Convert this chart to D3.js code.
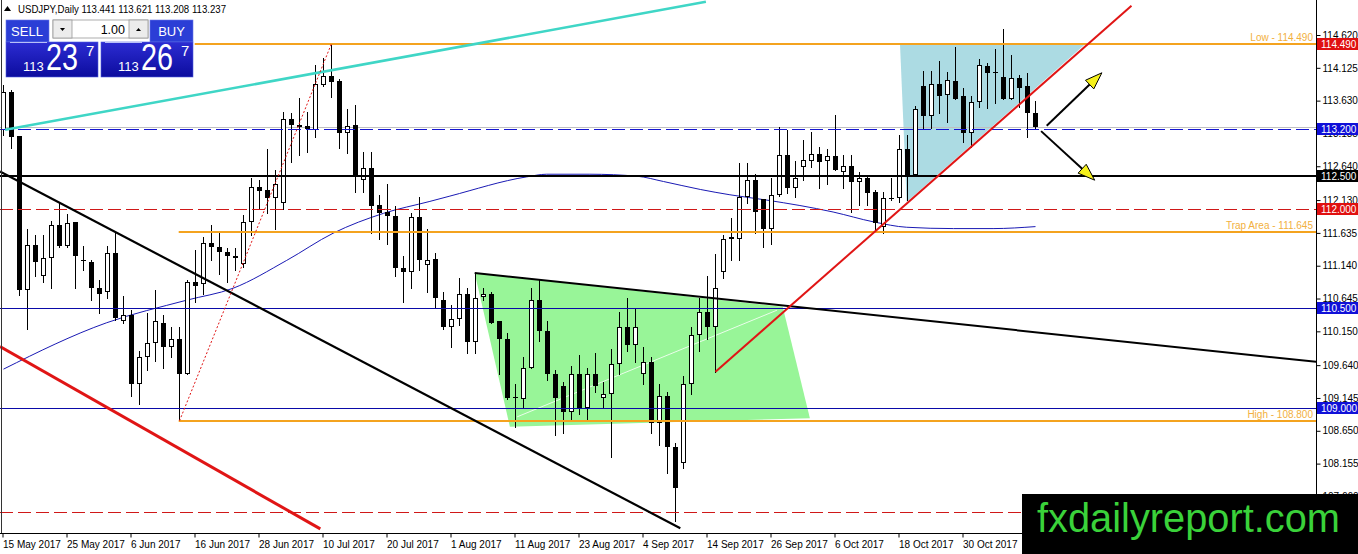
<!DOCTYPE html>
<html><head><meta charset="utf-8">
<script src="https://cdn.jsdelivr.net/npm/d3@7"></script>
<style>html,body{margin:0;padding:0;background:#fff;overflow:hidden}svg{display:block}</style>
</head><body><svg id="c" width="1358" height="554"></svg>
<script>
// ---------- DATA ----------
const opens=[113.18,113.76,113.09,110.78,111.45,110.98,111.25,111.75,111.43,111.80,111.22,111.19,110.80,110.74,111.33,110.31,110.39,109.36,109.77,109.97,110.27,109.91,110.03,109.51,110.89,110.87,111.49,111.42,111.34,111.28,111.16,111.80,112.32,112.28,112.16,112.08,113.35,113.26,113.25,113.19,113.86,114.00,113.93,113.14,113.26,112.44,112.61,112.05,111.95,111.89,111.10,111.05,111.87,111.15,111.24,110.63,110.22,110.33,110.71,109.99,110.67,110.72,110.30,110.03,109.15,109.13,109.59,110.63,110.16,109.51,109.33,108.93,109.51,109.00,109.51,109.15,109.21,109.66,110.21,109.94,109.50,109.68,108.77,109.18,108.41,108.17,109.36,110.10,110.44,110.21,111.04,111.57,111.55,112.17,112.44,112.14,111.69,112.20,112.81,112.31,112.63,112.72,112.82,112.72,112.79,112.55,112.64,112.40,112.46,112.25,111.72,112.15,112.16,112.90,112.51,113.85,113.40,113.88,113.71,113.92,113.70,113.14,113.61,114.15,114.06,113.99,113.65,113.97,113.85,113.441];
const highs=[113.86,113.79,113.10,111.69,111.60,111.61,111.81,112.10,111.92,111.80,111.43,111.22,110.92,111.43,111.63,110.69,110.47,109.86,110.42,110.77,110.39,110.21,110.21,110.93,111.37,111.57,111.75,111.67,111.40,111.40,111.90,112.46,112.43,112.90,112.58,113.46,113.44,113.67,113.46,114.17,114.27,114.49,113.96,113.50,113.56,112.85,112.85,112.20,112.38,112.04,111.29,111.93,112.17,111.69,111.33,110.75,110.54,110.96,110.80,111.02,110.80,110.75,110.30,110.13,109.36,109.76,110.81,110.92,110.31,109.57,109.38,109.62,109.80,109.60,109.82,109.38,109.88,110.44,110.65,110.48,109.91,109.76,109.36,109.23,108.46,109.48,110.22,110.65,110.99,111.31,111.61,111.86,112.69,112.69,112.52,112.14,112.46,113.23,113.18,112.72,113.03,113.15,112.93,112.90,113.41,112.81,112.81,112.55,112.49,112.28,112.25,112.46,113.11,113.11,113.55,114.08,114.08,114.23,114.06,114.44,113.82,113.70,114.26,114.20,114.41,114.71,114.32,114.02,114.05,113.621];
const lows=[113.11,112.91,110.70,110.19,110.99,110.89,110.81,111.42,111.42,110.81,111.07,110.62,110.42,110.66,110.32,110.27,109.18,109.06,109.56,109.71,109.59,109.76,108.80,109.50,110.59,110.72,111.22,111.02,110.89,111.07,111.12,111.60,112.01,111.93,111.70,112.00,112.70,112.81,112.85,113.08,113.85,113.68,112.91,112.84,112.25,112.25,111.64,111.54,111.46,110.98,110.59,110.80,111.07,110.75,110.51,110.19,109.91,110.24,109.82,109.82,110.62,110.28,109.51,109.13,108.70,109.00,109.59,110.01,109.42,108.58,108.61,108.82,108.90,108.82,109.24,109.00,108.25,109.51,109.86,109.68,109.36,108.61,108.43,108.02,107.29,108.09,109.21,109.86,110.04,109.53,110.96,111.22,111.22,112.09,111.64,111.42,111.46,112.19,112.23,112.17,112.44,112.63,112.31,112.38,112.58,112.31,111.95,112.05,112.05,111.66,111.64,112.13,112.10,112.13,112.51,113.22,113.22,113.44,113.31,113.65,113.00,112.93,113.53,113.52,113.60,113.65,113.65,113.53,113.08,113.208];
const closes=[113.76,113.08,110.77,111.45,111.19,111.25,111.75,111.43,111.78,111.28,111.23,110.80,110.72,111.33,110.35,110.39,109.36,109.77,109.97,110.30,109.91,110.03,109.51,110.89,110.84,111.49,111.42,111.34,111.28,111.25,111.80,112.32,112.26,112.16,112.37,113.35,113.26,113.23,113.20,113.88,114.00,113.91,113.14,113.25,112.49,112.61,112.04,111.93,111.89,111.10,111.05,111.87,111.22,111.22,110.66,110.21,110.33,110.71,109.99,110.66,110.72,110.28,110.03,109.15,109.16,109.60,110.63,110.15,109.51,109.15,108.93,109.51,109.00,109.51,109.32,109.21,109.66,110.21,109.95,110.21,109.68,108.77,109.18,108.41,107.79,109.36,110.10,110.44,110.21,110.80,111.54,111.55,112.17,112.44,111.95,111.69,112.20,112.81,112.31,112.46,112.74,112.82,112.70,112.79,112.58,112.65,112.40,112.46,112.23,111.78,112.16,112.16,112.90,112.51,113.50,113.40,113.88,113.70,113.94,113.65,113.14,113.61,114.17,114.05,114.06,113.65,113.97,113.82,113.44,113.237];

const dateLabels=["15 May 2017","25 May 2017","6 Jun 2017","16 Jun 2017","28 Jun 2017","10 Jul 2017","20 Jul 2017","1 Aug 2017","11 Aug 2017","23 Aug 2017","4 Sep 2017","14 Sep 2017","26 Sep 2017","6 Oct 2017","18 Oct 2017","30 Oct 2017"];
const dateBars=[0,8,16,24,32,40,48,56,64,72,80,88,96,104,112,120];
const priceTicks=[114.620,114.125,113.630,113.135,112.640,112.130,111.635,111.140,110.645,110.150,109.640,109.145,108.650,108.155,107.660];

// moving average: bar index / value
const maBars=[0,12.9,22.9,28.7,35.4,41.2,47.5,53.3,55.8,65.4,67.9,73.3,79.2,82.5,87.1,90.8,95.4,103.7,108.8,112.9,118.75,123.7,129];
const maVals=[109.58,110.28,110.62,110.80,111.22,111.63,111.93,112.11,112.19,112.48,112.52,112.52,112.49,112.41,112.29,112.21,112.13,111.95,111.80,111.72,111.70,111.70,111.73];

// horizontal levels
const levelPrices=[114.49,113.20,112.50,112.00,111.645,110.50,109.00,108.80,107.42];
const levelColors=["#f4a31f","#1414d0","#000000","#d01818","#f4a31f","#0a0aa8","#0a0aa8","#f4a31f","#d01818"];
const levelStyles=["solid","dash","solid","dash","solid","solid","solid","solid","dash"];
const levelWidths=[2,1,2,1,2,1,1,2,1];
const levelStartBars=[23.9,-1,-1,-1,21.9,-1,-1,21.9,-1];
const levelTexts=["Low - 114.490","","","","Trap Area - 111.645","","","High - 108.800",""];
const axisBoxPrices=[114.49,113.20,112.50,112.00,110.50,109.00];
const axisBoxColors=["#e01010","#1010d8","#000000","#e01010","#1010d8","#1010d8"];
const bidPrice=113.237;

// trend lines: [bar, price] endpoints
const cyanLine=[[0.2,113.19],[87.8,115.12]];
const blackDown=[[-0.44,112.56],[84.6,107.18]];
const redDown=[[-0.44,109.92],[39.6,107.17]];
const blackTop=[[58.9,111.03],[164.1,109.69]];
const redUp=[[89,109.54],[141,115.06]];
const redDotted=[[22,108.80],[41,114.49]];
const greenPoly=[[58.9,111.03],[97.4,110.52],[100.8,108.84],[63.3,108.71]];
const greenInner=[[64.2,108.86],[96.7,110.47]];
const bluePoly=[[112.06,114.49],[135.3,114.49],[112.9,112.10]];
const arrowUp=[[130.4,113.25],[137.3,114.05]];
const arrowDown=[[129.7,113.17],[136.4,112.43]];

// ---------- SCALES ----------
const W=1358,H=554,PR=1316,PB=533;
const x=d3.scaleLinear().domain([0,100]).range([3.5,803.5]);
const y=d3.scaleLinear().domain([108.155,114.62]).range([463.6,35]);
const svg=d3.select('#c');
svg.append('rect').attr('width',W).attr('height',H).attr('fill','#fff');
const defs=svg.append('defs');
defs.append('clipPath').attr('id','plot').append('rect').attr('x',0).attr('y',0).attr('width',PR).attr('height',PB);
const g=svg.append('g').attr('clip-path','url(#plot)');
const pt=p=>[x(p[0]),y(p[1])];
const line=d3.line().x(d=>x(d[0])).y(d=>y(d[1]));
const font='Liberation Sans, Arial, sans-serif';

// polygons (background)
g.append('path').attr('d',line(greenPoly)+'Z').attr('fill','#98f598');
g.append('path').attr('d',line(greenInner)).attr('stroke','#ffffff').attr('stroke-width',1).attr('opacity',0.8);
g.append('path').attr('d',line(bluePoly)+'Z').attr('fill','#acdbe3');

// bid line
g.append('line').attr('x1',0).attr('x2',PR).attr('y1',Math.round(y(bidPrice))+0.5).attr('y2',Math.round(y(bidPrice))+0.5).attr('stroke','#c0c0c0');

// MA
g.append('path').attr('d',d3.line().curve(d3.curveMonotoneX).x((d,i)=>x(d)).y((d,i)=>y(maVals[i]))(maBars)).attr('fill','none').attr('stroke','#1a1ab4').attr('stroke-width',1);

// candles
const cg=g.append('g').attr('shape-rendering','crispEdges');
opens.forEach((o,i)=>{
  const c=closes[i],h=highs[i],l=lows[i];
  const cx=x(i);
  const yh=Math.round(y(h)),yl=Math.round(y(l));
  cg.append('line').attr('x1',cx).attr('x2',cx).attr('y1',yh).attr('y2',yl+1).attr('stroke','#000');
  const yt=Math.round(y(Math.max(o,c))),yb=Math.round(y(Math.min(o,c)));
  if(yb-yt<2){
    cg.append('rect').attr('x',cx-2.5).attr('y',yt).attr('width',5).attr('height',Math.max(1,yb-yt)).attr('fill','#000');
  } else if(c>=o){
    cg.append('rect').attr('x',cx-2).attr('y',yt+0.5).attr('width',4).attr('height',yb-yt-1).attr('fill','#fff').attr('stroke','#000');
  } else {
    cg.append('rect').attr('x',cx-2.5).attr('y',yt).attr('width',5).attr('height',yb-yt).attr('fill','#000');
  }
});

// horizontal levels
levelPrices.forEach((p,i)=>{
  const yy=levelWidths[i]===1?Math.round(y(p))+0.5:Math.round(y(p));
  const x0=levelStartBars[i]<0?0:x(levelStartBars[i]);
  const ln=g.append('line').attr('x1',x0).attr('x2',PR).attr('y1',yy).attr('y2',yy)
    .attr('stroke',levelColors[i]).attr('stroke-width',levelWidths[i]);
  if(levelStyles[i]==='dash') ln.attr('stroke-dasharray','13,5');
  if(levelTexts[i]) g.append('text').attr('x',1313).attr('y',yy-3).attr('text-anchor','end')
    .attr('font-family',font).attr('font-size',10).attr('fill','#f2b040').text(levelTexts[i]);
});

// trend lines
g.append('path').attr('d',line(cyanLine)).attr('stroke','#3fd6c6').attr('stroke-width',2.5);
g.append('path').attr('d',line(blackDown)).attr('stroke','#000').attr('stroke-width',2.2);
g.append('path').attr('d',line(redDown)).attr('stroke','#e01515').attr('stroke-width',3);
g.append('path').attr('d',line(blackTop)).attr('stroke','#000').attr('stroke-width',2);
g.append('path').attr('d',line(redUp)).attr('stroke','#e01515').attr('stroke-width',2);
g.append('path').attr('d',line(redDotted)).attr('stroke','#e01515').attr('stroke-width',1).attr('stroke-dasharray','2,2');

// arrows
function arrow(a){
  const [x1,y1]=pt(a[0]),[x2,y2]=pt(a[1]);
  const dx=x2-x1,dy=y2-y1,L=Math.hypot(dx,dy),ux=dx/L,uy=dy/L;
  const hl=17,hw=6;
  const bx=x2-ux*hl,by=y2-uy*hl;
  g.append('line').attr('x1',x1).attr('y1',y1).attr('x2',bx).attr('y2',by).attr('stroke','#000').attr('stroke-width',2);
  g.append('path').attr('d',`M${x2},${y2}L${bx-uy*hw},${by+ux*hw}L${bx+uy*hw},${by-ux*hw}Z`)
   .attr('fill','#f5f01a').attr('stroke','#000').attr('stroke-width',1);
}
arrow(arrowUp);arrow(arrowDown);

// axes frame
svg.append('line').attr('x1',PR+0.5).attr('x2',PR+0.5).attr('y1',0).attr('y2',PB+1).attr('stroke','#000');
svg.append('line').attr('x1',0).attr('x2',PR+1).attr('y1',PB+0.5).attr('y2',PB+0.5).attr('stroke','#000');
svg.append('line').attr('x1',1.5).attr('x2',1.5).attr('y1',0).attr('y2',PB).attr('stroke','#333');

const ra=svg.append('g').attr('transform',`translate(${PR+0.5},0)`)
  .call(d3.axisRight(y).tickValues(priceTicks).tickSize(4).tickPadding(2).tickFormat(d3.format('.3f')));
ra.select('.domain').remove();
ra.selectAll('text').attr('font-family',font).attr('font-size',10).attr('fill','#000');
ra.selectAll('line').attr('stroke','#000');

const ba=svg.append('g').attr('transform',`translate(0,${PB+0.5})`)
  .call(d3.axisBottom(x).tickValues(dateBars).tickSize(4).tickPadding(3).tickFormat((d,i)=>dateLabels[i]));
ba.select('.domain').remove();
ba.selectAll('text').attr('text-anchor','start').attr('x',-1).attr('font-family',font).attr('font-size',10).attr('fill','#000');
ba.selectAll('line').attr('stroke','#000').attr('transform','translate(-1,0)');

// axis label boxes (drawn over the tick labels they cover)
axisBoxPrices.forEach((p,i)=>{
  const yy=Math.round(y(p));
  svg.append('rect').attr('x',PR+1).attr('y',yy-6).attr('width',W-PR-1).attr('height',12).attr('fill',axisBoxColors[i]);
  svg.append('text').attr('x',PR+5).attr('y',yy+4).attr('font-family',font)
    .attr('font-size',10).attr('fill','#fff').text(d3.format('.3f')(p));
});

// header
svg.append('path').attr('d','M4,11L7.5,6L11,11Z').attr('fill','#000');
svg.append('text').attr('x',18).attr('y',13).attr('font-family',font).attr('font-size',10.5)
  .attr('textLength',208).attr('lengthAdjust','spacingAndGlyphs').attr('fill','#000')
  .text('USDJPY,Daily  113.441 113.621 113.208 113.237');

// one-click trading panel
const grad=defs.append('linearGradient').attr('id','pg').attr('x1',0).attr('x2',0).attr('y1',0).attr('y2',1);
grad.append('stop').attr('offset','0%').attr('stop-color','#2c2cd2');
grad.append('stop').attr('offset','100%').attr('stop-color','#0c0c9e');
[[6,'SELL',27],[150,'BUY',171.5]].forEach(b=>{
  svg.append('rect').attr('x',b[0]).attr('y',20).attr('width',43).attr('height',22).attr('fill','#2b3ed6').attr('stroke','#6a78e8').attr('stroke-width',0.6);
  svg.append('text').attr('x',b[2]).attr('y',36).attr('text-anchor','middle').attr('font-family',font).attr('font-size',13).attr('fill','#fff').text(b[1]);
});
svg.append('rect').attr('x',53).attr('y',20).attr('width',95).attr('height',18).attr('fill','#fff').attr('stroke','#9a9a9a').attr('stroke-width',0.8);
svg.append('rect').attr('x',53).attr('y',20).attr('width',19).attr('height',18).attr('fill','#ececec').attr('stroke','#9a9a9a').attr('stroke-width',0.8);
svg.append('rect').attr('x',129).attr('y',20).attr('width',19).attr('height',18).attr('fill','#ececec').attr('stroke','#9a9a9a').attr('stroke-width',0.8);
svg.append('path').attr('d','M60,28L65,28L62.5,31Z').attr('fill','#000');
svg.append('path').attr('d','M136,31L141,31L138.5,28Z').attr('fill','#000');
svg.append('text').attr('x',125).attr('y',34).attr('text-anchor','end').attr('font-family',font).attr('font-size',12.5).attr('fill','#000').text('1.00');
[[6,'113','23','7'],[101,'113','26','7']].forEach(b=>{
  const x0=b[0];
  svg.append('rect').attr('x',x0).attr('y',42).attr('width',92).attr('height',35).attr('fill','url(#pg)').attr('stroke','#5060e0').attr('stroke-width',0.6);
  svg.append('line').attr('x1',x0+4).attr('x2',x0+41).attr('y1',42.5).attr('y2',42.5).attr('stroke','#b8c0f8');
  svg.append('text').attr('x',x0+17).attr('y',71).attr('font-family',font).attr('font-size',13).attr('fill','#fff').text(b[1]);
  svg.append('text').attr('x',x0+40).attr('y',70).attr('font-family',font).attr('font-size',36)
    .attr('textLength',32).attr('lengthAdjust','spacingAndGlyphs').attr('fill','#fff').text(b[2]);
  svg.append('text').attr('x',x0+80).attr('y',56).attr('font-family',font).attr('font-size',15).attr('fill','#fff').text(b[3]);
});

// watermark
svg.append('rect').attr('x',1022).attr('y',494).attr('width',W-1022).attr('height',H-494).attr('fill','#000');
svg.append('text').attr('x',1037).attr('y',532).attr('font-family',font).attr('font-size',40)
  .attr('textLength',303).attr('lengthAdjust','spacingAndGlyphs').attr('fill','#3ad23a').text('fxdailyreport.com');
</script></body></html>
